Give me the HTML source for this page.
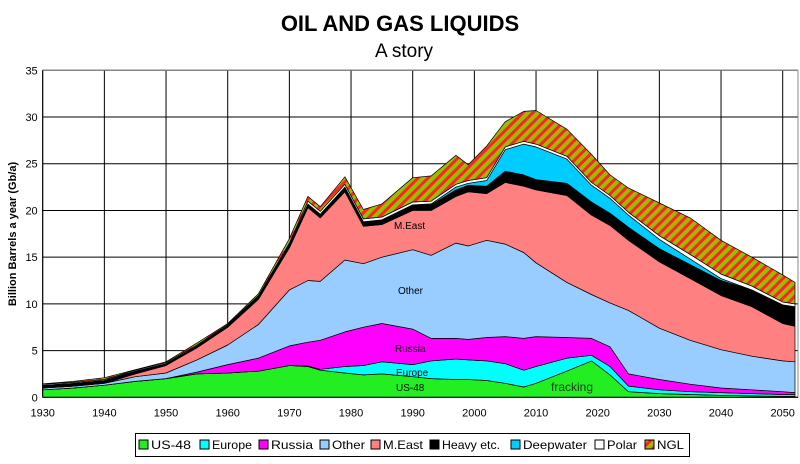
<!DOCTYPE html>
<html><head><meta charset="utf-8">
<style>
body{margin:0;background:#fff;width:800px;height:459px;overflow:hidden;font-family:"Liberation Sans",sans-serif}
svg text{font-family:"Liberation Sans",sans-serif}
</style></head>
<body>
<svg id="chart" width="800" height="459" viewBox="0 0 800 459" xmlns="http://www.w3.org/2000/svg">
<defs>
<pattern id="ngl" patternUnits="userSpaceOnUse" width="7" height="7" patternTransform="rotate(45)">
<rect width="7" height="7" fill="#99bb00"/><rect width="3" height="7" fill="#ff2222"/>
</pattern>
</defs>
<text x="400" y="31" text-anchor="middle" font-size="22" font-weight="bold">OIL AND GAS LIQUIDS</text>
<text x="404" y="57" text-anchor="middle" font-size="19">A story</text>
<g id="grid"></g>
<g id="areas"></g>
<g id="axes"></g>
<text transform="translate(16,234) rotate(-90)" text-anchor="middle" font-size="11" font-weight="bold">Billion Barrels a year (Gb/a)</text>
<g font-size="10">
<text x="394" y="229">M.East</text>
<text x="398" y="294">Other</text>
<text x="395" y="352">Russia</text>
<text x="396" y="376">Europe</text>
<text x="396" y="391">US-48</text>
<text x="551" y="391" font-size="12" fill="#1a3a1a">fracking</text>
</g>
<g id="legend"></g>
</svg>
<script>
const years=[1930,1935,1940,1945,1950,1955,1960,1965,1970,1973,1975,1979,1982,1985,1990,1993,1997,1999,2002,2005,2008,2010,2015,2019,2022,2025,2030,2035,2040,2045,2050,2052];
const us48=[0.8,1.0,1.3,1.7,2.0,2.5,2.6,2.8,3.4,3.3,2.9,2.6,2.4,2.5,2.2,2.0,1.9,1.9,1.8,1.5,1.1,1.5,2.8,3.9,2.4,0.6,0.4,0.3,0.2,0.15,0.1,0.1];
const europe=[0,0,0,0,0,0,0,0,0,0.05,0.1,0.7,1.0,1.3,1.3,1.9,2.2,2.1,2.1,2.1,1.8,1.8,1.4,0.6,0.9,0.6,0.4,0.3,0.3,0.25,0.2,0.2];
const russia=[0,0,0,0,0,0.2,0.9,1.4,2.1,2.55,3.1,3.7,4.1,4.1,3.8,2.4,2.2,2.2,2.5,2.9,3.4,3.2,2.2,1.8,2.1,1.3,1.1,0.8,0.5,0.4,0.3,0.2];
const other=[0.2,0.2,0.2,0.5,0.6,1.3,2.1,3.6,6.0,6.6,6.3,7.7,6.8,7.1,8.5,8.9,10.2,10.0,10.4,9.9,9.2,7.9,5.9,4.7,4.7,6.8,5.5,4.7,4.1,3.6,3.3,3.3];
const mEast=[0,0,0,0.3,0.8,1.3,1.9,2.7,4.5,7.8,6.8,7.3,4.0,3.5,4.2,4.8,5.0,5.8,5.0,6.6,7.1,7.8,9.3,8.5,8.3,7.5,7.1,6.6,5.8,5.3,4.0,3.8];
const heavy=[0.3,0.3,0.3,0.3,0.2,0.2,0.2,0.3,0.4,0.4,0.4,0.5,0.5,0.5,0.6,0.6,0.7,0.7,0.8,1.2,1.2,1.1,1.3,1.4,1.3,1.4,1.4,1.5,1.6,1.8,2.0,2.1];
const deepwater=[0,0,0,0,0,0,0,0,0,0,0,0,0,0,0,0.1,0.3,0.2,0.6,2.3,3.3,3.5,2.6,1.8,1.6,1.3,1.0,0.6,0.2,0,0,0];
const polar=[0.1,0.1,0.1,0.1,0.1,0.1,0.1,0.1,0.1,0.3,0.3,0.3,0.3,0.3,0.3,0.3,0.3,0.3,0.3,0.3,0.3,0.3,0.3,0.3,0.3,0.3,0.4,0.5,0.5,0.4,0.3,0.3];
const ngl=[0.05,0.1,0.2,0.05,0.1,0.2,0.1,0.2,0.5,0.5,0.5,0.8,1.0,1.4,2.6,2.7,3.1,1.7,3.4,2.7,3.2,3.6,2.9,3.0,2.2,2.6,3.5,3.9,3.6,3.1,2.9,2.3];
const seriesNames=["US-48","Europe","Russia","Other","M.East","Heavy etc.","Deepwater","Polar","NGL"];
const xTicks=[1930,1940,1950,1960,1970,1980,1990,2000,2010,2020,2030,2040,2050];
const yTicks=[0,5,10,15,20,25,30,35];

const NS="http://www.w3.org/2000/svg";
const X0=42.7,X1=798,Y0=397.3,Y1=70.3;
const x=v=>X0+(v-1930)*(782.7-42.7)/120;
const y=v=>Y0-(v/35)*(Y0-Y1);
function mk(tag,attrs,parent){const e=document.createElementNS(NS,tag);for(const k in attrs)e.setAttribute(k,attrs[k]);parent.appendChild(e);return e;}
const grid=document.getElementById('grid'),axes=document.getElementById('axes'),areas=document.getElementById('areas'),legend=document.getElementById('legend');
yTicks.forEach(t=>{
 const l=mk('line',{x1:X0,x2:X1,y1:y(t),y2:y(t),stroke:'#000','stroke-width':1},grid);
 
 
 const tx=mk('text',{x:X0-5,y:y(t)+4,'text-anchor':'end','font-size':11},axes);
 tx.textContent=t;
 
 
});
xTicks.forEach(t=>{
 const l=mk('line',{x1:x(t),x2:x(t),y1:Y1,y2:Y0,stroke:'#000','stroke-width':1},grid);
 
 
 const tx=mk('text',{x:x(t),y:Y0+19,'text-anchor':'middle','font-size':11},axes);
 tx.textContent=t;
 
 
});
mk('line',{x1:X1,x2:X1,y1:Y1,y2:Y0,stroke:'#888','stroke-width':1},grid);
mk('line',{x1:X0,x2:X1,y1:Y1,y2:Y1,stroke:'#888','stroke-width':1},grid);
const series=[us48,europe,russia,other,mEast,heavy,deepwater,polar,ngl];
const fills=["#22ee22","#00ffff","#ff00ff","#99ccff","#ff8080","#000000","#00ccff","#ffffff","url(#ngl)"];
const keys=["us48","europe","russia","other","meast","heavy","deepwater","polar","ngl"];
let base=years.map(()=>0);
series.forEach((s,i)=>{
 const top=base.map((b,j)=>b+s[j]);
 let d='M'+years.map((yr,j)=>x(yr).toFixed(1)+','+y(top[j]).toFixed(1)).join('L');
 for(let j=years.length-1;j>=0;j--)d+='L'+x(years[j]).toFixed(1)+','+y(base[j]).toFixed(1);
 d+='Z';
 const p=mk('path',{d:d,fill:fills[i],stroke:'#000','stroke-width':0.7,'stroke-linejoin':'round'},areas);
 
 
 base=top;
});
mk('line',{x1:X0,x2:X1,y1:Y0,y2:Y0,stroke:'#000','stroke-width':1},axes);
mk('line',{x1:X0,x2:X0,y1:Y1,y2:Y0,stroke:'#000','stroke-width':1},axes);
// legend
const box=mk('rect',{x:135.5,y:433.5,width:554,height:23,fill:'#fff',stroke:'#000','stroke-width':1},legend);


const lx=[139,200,259,320,371,430,511,595,645];
const lw=[40,40,42,33,40,58,64,30,27];
seriesNames.forEach((n,i)=>{
 const g=mk('g',{},legend);
 
 
 mk('rect',{x:lx[i],y:440,width:9,height:9,fill:fills[i],stroke:'#000','stroke-width':1},g);
 const t=mk('text',{x:lx[i]+12,y:449,'font-size':12,textLength:lw[i],lengthAdjust:'spacingAndGlyphs'},g);
 t.textContent=n;
});
</script>
</body></html>
